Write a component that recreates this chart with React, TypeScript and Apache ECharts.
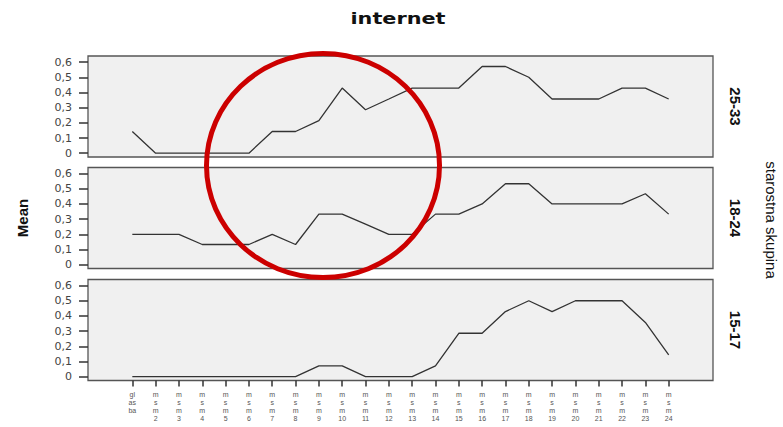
import React, { useEffect, useRef } from "react";
import * as echarts from "echarts";

const xLabels = [
  "gl\nas\nba", "m\ns\nm\n2", "m\ns\nm\n3", "m\ns\nm\n4", "m\ns\nm\n5", "m\ns\nm\n6",
  "m\ns\nm\n7", "m\ns\nm\n8", "m\ns\nm\n9", "m\ns\nm\n10", "m\ns\nm\n11", "m\ns\nm\n12",
  "m\ns\nm\n13", "m\ns\nm\n14", "m\ns\nm\n15", "m\ns\nm\n16", "m\ns\nm\n17", "m\ns\nm\n18",
  "m\ns\nm\n19", "m\ns\nm\n20", "m\ns\nm\n21", "m\ns\nm\n22", "m\ns\nm\n23", "m\ns\nm\n24",
];

const panelNames = ["25-33", "18-24", "15-17"];

const group2533 = [0.143, 0, 0, 0, 0, 0, 0.143, 0.143, 0.214, 0.429, 0.286, 0.357, 0.429, 0.429, 0.429, 0.571, 0.571, 0.5, 0.357, 0.357, 0.357, 0.429, 0.429, 0.357];
const group1824 = [0.2, 0.2, 0.2, 0.133, 0.133, 0.133, 0.2, 0.133, 0.333, 0.333, 0.267, 0.2, 0.2, 0.333, 0.333, 0.4, 0.533, 0.533, 0.4, 0.4, 0.4, 0.4, 0.467, 0.333];
const group1517 = [0, 0, 0, 0, 0, 0, 0, 0, 0.071, 0.071, 0, 0, 0, 0.071, 0.286, 0.286, 0.429, 0.5, 0.429, 0.5, 0.5, 0.5, 0.357, 0.143];

const yTicks = [0, 0.1, 0.2, 0.3, 0.4, 0.5, 0.6];
const xTicks = xLabels.map((_, i) => i + 1);

const title = "internet";
const yTitle = "Mean";
const panelTitle = "starostna skupina";

export default function App() {
  const ref = useRef<HTMLDivElement>(null);
  useEffect(() => {
    if (!ref.current) return;
    const chart = echarts.init(ref.current, null, { renderer: "svg" });
    const seriesData = [group2533, group1824, group1517];
    const tops = [56, 167.5, 279.5];
    const H = 101;
    const grids = tops.map((t) => ({
      left: 88,
      width: 625,
      top: t,
      height: H,
      show: true,
      backgroundColor: "#f0f0f0",
      borderColor: "#555",
      borderWidth: 1.3,
    }));
    const xAxes = tops.map((_, i) => ({
      type: "value",
      gridIndex: i,
      min: -0.9,
      max: 25.9,
      splitLine: { show: false },
      axisLine: { show: false, onZero: false },
      axisTick: {
        show: i === 2,
        customValues: xTicks,
        length: 6,
        lineStyle: { color: "#333", width: 1.5 },
      },
      axisLabel: {
        show: i === 2,
        customValues: xTicks,
        formatter: (v: number) => xLabels[Math.round(v) - 1] ?? "",
        fontSize: 7,
        lineHeight: 8,
        color: "#555",
        fontFamily: "Liberation Sans",
        margin: 10,
        verticalAlign: "top",
      },
    }));
    const yAxes = tops.map((_, i) => ({
      type: "value",
      gridIndex: i,
      min: -0.025,
      max: 0.64,
      splitLine: { show: false },
      axisLine: { show: false, onZero: false },
      axisTick: {
        show: true,
        customValues: yTicks,
        length: 9,
        lineStyle: { color: "#333", width: 1.5 },
      },
      axisLabel: {
        show: true,
        customValues: yTicks,
        formatter: (v: number) => (Math.abs(v) < 1e-9 ? "0" : v.toFixed(1).replace(".", ",")),
        fontSize: 11,
        color: "#444",
        fontFamily: "DejaVu Sans",
        margin: 16,
      },
    }));
    const series = seriesData.map((d, i) => ({
      type: "line",
      xAxisIndex: i,
      yAxisIndex: i,
      data: d.map((v, j) => [xTicks[j], v]),
      showSymbol: false,
      symbol: "none",
      lineStyle: { color: "#333", width: 1.3 },
    }));
    const graphic: any[] = [
      {
        type: "text",
        x: 398,
        y: 18,
        scaleX: 1.3,
        style: {
          text: title,
          font: "bold 16px 'DejaVu Sans'",
          fill: "#111",
          align: "center",
          verticalAlign: "middle",
        },
      },
      {
        type: "text",
        x: 22,
        y: 218,
        rotation: Math.PI / 2,
        style: {
          text: yTitle,
          font: "bold 15px 'Liberation Sans Narrow', 'Liberation Sans'",
          fill: "#111",
          align: "center",
          verticalAlign: "middle",
        },
      },
      {
        type: "text",
        x: 771,
        y: 220,
        rotation: -Math.PI / 2,
        style: {
          text: panelTitle,
          font: "15px 'Liberation Sans Narrow', 'Liberation Sans'",
          fill: "#111",
          align: "center",
          verticalAlign: "middle",
        },
      },
      ...panelNames.map((n, i) => ({
        type: "text",
        x: 735,
        y: tops[i] + H / 2,
        rotation: -Math.PI / 2,
        style: {
          text: n,
          font: "bold 15px 'Liberation Sans Narrow', 'Liberation Sans'",
          fill: "#111",
          align: "center",
          verticalAlign: "middle",
        },
      })),
      {
        type: "ellipse",
        shape: { cx: 323, cy: 165.5, rx: 116.5, ry: 112 },
        style: { fill: "none", stroke: "#cc0000", lineWidth: 5 },
        z: 100,
      },
    ];
    chart.setOption({
      animation: false,
      grid: grids,
      xAxis: xAxes,
      yAxis: yAxes,
      series,
      graphic,
    } as any);
    return () => chart.dispose();
  }, []);
  return (
    <div
      ref={ref}
      style={{ position: "fixed", left: 0, top: 0, width: 783, height: 427, background: "#fff" }}
    />
  );
}
